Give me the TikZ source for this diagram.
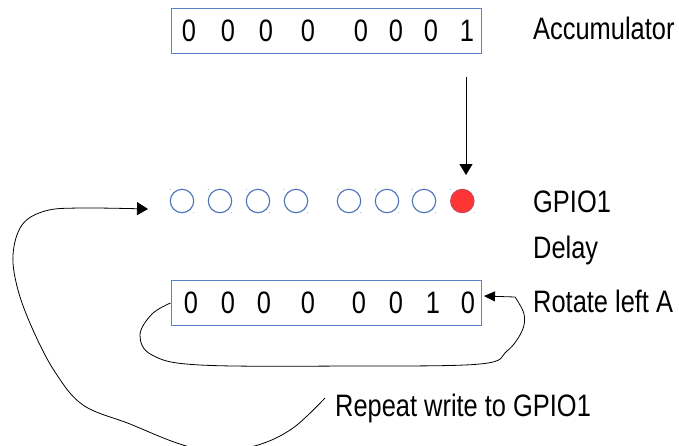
\documentclass[tikz,border=0pt]{standalone}
\usepackage{fontspec}
\setmainfont{Liberation Sans}[FakeStretch=0.82]
\usetikzlibrary{arrows.meta}
\definecolor{regblue}{HTML}{5B84C4}
\definecolor{ledblue}{HTML}{4A72B8}
\definecolor{ledred}{HTML}{FF3535}
\definecolor{handle}{HTML}{9DB3DA}
\tikzset{
  regbox/.style={draw=regblue, line width=1pt, minimum width=310pt, minimum height=45pt, inner sep=0pt},
  bit/.style={inner sep=0pt, anchor=base, font=\fontsize{31}{37}\selectfont},
  lbl/.style={inner sep=0pt, anchor=base west, font=\fontsize{31}{37}\selectfont},
  led/.style={circle, draw=ledblue, line width=1.1pt, minimum size=23.4pt, inner sep=0pt},
  ledon/.style={led, fill=ledred, draw=ledred!70!ledblue},
  conn/.style={draw=black, line width=0.8pt},
  bigtip/.tip={Triangle[length=11pt,width=13pt]},
  smalltip/.tip={Triangle[length=11pt,width=10pt]}
}
\begin{document}
\begin{tikzpicture}[x=1pt,y=-1pt]
\useasboundingbox (0,0) rectangle (679,445);
\clip (0,0) rectangle (679,445);

% accumulator register
\node[regbox] (acc) at (326,30.5) {};
\foreach \x [count=\i] in {189,228,266,308,361,396,431,467}
  \node[bit] (a\i) at (\x,41.5) {\ifnum\i=8 1\else 0\fi};
\node[lbl] (acclbl) at (533,39) {Accumulator};

% GPIO1 output pins
\foreach \x [count=\i] in {182,220,258,296,349,387,424}{
  \node[led] (c\i) at (\x,201) {};
  \fill[handle] (\x-11.7,189.3) circle (0.6pt) (\x+11.7,212.7) circle (0.6pt);
}
\node[ledon] (c8) at (462.3,201) {};
\fill[handle] (450.6,189.3) circle (0.6pt) (474,212.7) circle (0.6pt);
\node[lbl] (gpiolbl) at (533,212) {GPIO1};
\node[lbl] (delaylbl) at (533,258) {Delay};

% register after rotation
\node[regbox] (rot) at (326,303) {};
\foreach \x [count=\i] in {191,228,264,308,359,396,433,468}
  \node[bit] (r\i) at (\x,313.5) {\ifnum\i=7 1\else 0\fi};
\node[lbl] (rotlbl) at (533,312) {Rotate left A};

\node[lbl] (replbl) at (335,416) {Repeat write to GPIO1};

% write accumulator to the pins
\coordinate (wfrom) at (466,77);
\coordinate (wto) at (466,175);
\draw[conn, -{bigtip}] (wfrom) -- (wto);

% rotate-left loop
\coordinate (rtip) at (484,296);
\draw[conn, -{smalltip}] plot[smooth, tension=0.6] coordinates {
  (rot.west) (152,314) (140,335) (152,355) (200,365) (350,366)
  (480,364) (507,351) (522,331) (524,314) (515,297)} -- (rtip);

% repeat loop back to the pins
\coordinate (rpt) at (325,398);
\coordinate (gin) at (148,209);
\draw[conn, -{bigtip}] plot[smooth, tension=0.6] coordinates {
  (rpt) (293,428) (258,445) (215,452) (177,443) (130,424) (83,405)
  (55,372) (33,330) (18,290) (13,255) (22,225) (45,211) (80,208) (gin)};
\end{tikzpicture}
\end{document}
